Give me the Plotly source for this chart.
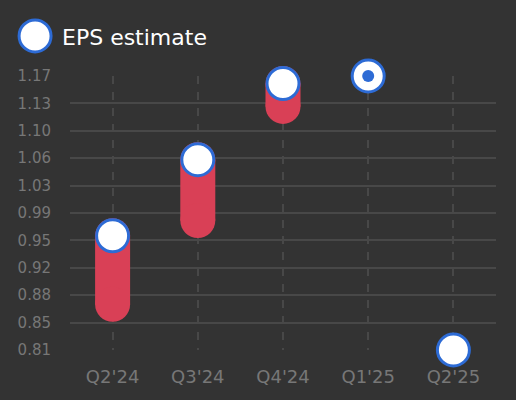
import plotly.graph_objects as go

quarters = ["Q2'24", "Q3'24", "Q4'24", "Q1'25", "Q2'25"]
eps_estimate = [0.96, 1.06, 1.16, 1.17, 0.81]
eps_actual = [0.87, 0.98, 1.13, None, None]
current_quarter = ["Q1'25"]
current_value = [1.17]

y_ticks = [0.81, 0.846, 0.882, 0.918, 0.954, 0.99, 1.026, 1.062, 1.098, 1.134, 1.17]

BG = '#333333'
GRID = '#484848'
RED = '#d94056'
BLUE = '#2d6bd5'
TICK = '#777777'

fig = go.Figure()

# miss bars: actual -> estimate, rounded with a marker at each end
for q, est, act in zip(quarters, eps_estimate, eps_actual):
    if act is None:
        continue
    fig.add_trace(go.Scatter(
        x=[q, q], y=[act, est],
        mode='lines+markers',
        line=dict(color=RED, width=35),
        marker=dict(color=RED, size=35, line=dict(width=0)),
        showlegend=False, hoverinfo='skip', cliponaxis=False
    ))

fig.add_trace(go.Scatter(
    x=quarters, y=eps_estimate,
    mode='markers', name='EPS estimate',
    marker=dict(color='white', size=32, line=dict(color=BLUE, width=3)),
    showlegend=False, cliponaxis=False
))

fig.add_trace(go.Scatter(
    x=current_quarter, y=current_value,
    mode='markers',
    marker=dict(color=BLUE, size=12, line=dict(width=0)),
    showlegend=False, hoverinfo='skip', cliponaxis=False
))

# legend drawn by hand so the symbol can be full size
fig.add_shape(
    type='circle', xref='paper', yref='paper',
    xsizemode='pixel', ysizemode='pixel',
    xanchor=-0.082, yanchor=1.146,
    x0=-16, x1=16, y0=-16, y1=16,
    fillcolor='white', line=dict(color=BLUE, width=3)
)
fig.add_annotation(
    text='EPS estimate', xref='paper', yref='paper',
    x=-0.024, y=1.142, xanchor='left', yanchor='middle',
    showarrow=False, font=dict(size=22, color='white')
)

fig.update_xaxes(
    type='category', range=[-0.5, 4.5],
    showgrid=True, gridcolor=GRID, gridwidth=2, griddash='8px,8px',
    zeroline=False, showline=False, ticks='',
    tickfont=dict(size=18, color=TICK), ticklabelstandoff=14
)
fig.update_yaxes(
    range=[0.81, 1.17], tickvals=y_ticks, tickformat='.2f',
    showgrid=True, gridcolor=GRID, gridwidth=2,
    zeroline=False, showline=False, ticks='',
    tickfont=dict(size=15, color=TICK), ticklabelstandoff=18
)

fig.update_layout(
    width=516, height=400,
    margin=dict(l=70, r=20, t=76, b=50),
    paper_bgcolor=BG, plot_bgcolor=BG,
    font=dict(family='DejaVu Sans'),
    showlegend=False
)

# drop the page margin so the chart fills the window
fig.write_html("out.html", config={'displayModeBar': False},
               post_script="document.body.style.margin='0';")
